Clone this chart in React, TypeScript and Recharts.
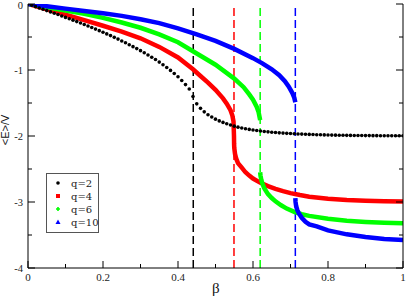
import { ComposedChart, Line, XAxis, YAxis, ReferenceLine } from 'recharts'

// axis ticks
const xTicks = [0, 0.1, 0.2, 0.3, 0.4, 0.5, 0.6, 0.7, 0.8, 0.9, 1]
const xTickLabels = ['0', '', '0.2', '', '0.4', '', '0.6', '', '0.8', '', '1']
const yTicks = [-4, -3.5, -3, -2.5, -2, -1.5, -1, -0.5, 0]
const yTickLabels = ['-4', '', '-3', '', '-2', '', '-1', '', '0']

// critical couplings (dashed lines)
const criticalBeta = [0.4407, 0.5493, 0.6191, 0.7129]
const criticalColors = ['#000000', '#ff0000', '#00ff00', '#0000ff']

// q=2
const q2Beta = [
  0, 0.01, 0.02, 0.03, 0.04, 0.05, 0.06, 0.07, 0.08, 0.09,
  0.1, 0.11, 0.12, 0.13, 0.14, 0.15, 0.16, 0.17, 0.18, 0.19,
  0.2, 0.21, 0.22, 0.23, 0.24, 0.25, 0.26, 0.27, 0.28, 0.29,
  0.3, 0.31, 0.32, 0.33, 0.34, 0.35, 0.36, 0.37, 0.38, 0.39,
  0.4, 0.41, 0.42, 0.43, 0.44, 0.45, 0.46, 0.47, 0.48, 0.49,
  0.5, 0.51, 0.52, 0.53, 0.54, 0.55, 0.56, 0.57, 0.58, 0.59,
  0.6, 0.61, 0.62, 0.63, 0.64, 0.65, 0.66, 0.67, 0.68, 0.69,
  0.7, 0.71, 0.72, 0.73, 0.74, 0.75, 0.76, 0.77, 0.78, 0.79,
  0.8, 0.81, 0.82, 0.83, 0.84, 0.85, 0.86, 0.87, 0.88, 0.89,
  0.9, 0.91, 0.92, 0.93, 0.94, 0.95, 0.96, 0.97, 0.98, 0.99, 1,
]
const q2Energy = [
  0, -0.02, -0.04, -0.06, -0.08, -0.1, -0.12, -0.14, -0.16, -0.181,
  -0.203, -0.224, -0.245, -0.267, -0.289, -0.311, -0.333, -0.356, -0.38, -0.404,
  -0.428, -0.453, -0.479, -0.505, -0.532, -0.56, -0.588, -0.617, -0.646, -0.676,
  -0.707, -0.739, -0.772, -0.806, -0.842, -0.88, -0.92, -0.962, -1.006, -1.053,
  -1.102, -1.158, -1.221, -1.288, -1.402, -1.513, -1.581, -1.634, -1.678, -1.713,
  -1.745, -1.771, -1.794, -1.815, -1.834, -1.851, -1.866, -1.879, -1.89, -1.9,
  -1.909, -1.917, -1.924, -1.931, -1.937, -1.943, -1.948, -1.952, -1.956, -1.96,
  -1.963, -1.966, -1.969, -1.971, -1.974, -1.976, -1.978, -1.98, -1.982, -1.983,
  -1.985, -1.986, -1.987, -1.988, -1.989, -1.99, -1.991, -1.992, -1.992, -1.993,
  -1.994, -1.994, -1.995, -1.995, -1.996, -1.996, -1.996, -1.997, -1.997, -1.997, -1.997,
]

// q=4
const q4HighBeta = [0, 0.05, 0.1, 0.15, 0.2, 0.25, 0.3, 0.35, 0.4, 0.44, 0.46, 0.48, 0.5, 0.52, 0.53, 0.54, 0.545, 0.548, 0.5493]
const q4HighEnergy = [0, -0.08, -0.16, -0.245, -0.33, -0.42, -0.52, -0.65, -0.81, -0.99, -1.09, -1.19, -1.3, -1.43, -1.51, -1.61, -1.69, -1.78, -2.0]
const q4LowBeta = [0.5493, 0.5496, 0.55, 0.552, 0.555, 0.56, 0.57, 0.58, 0.59, 0.6, 0.62, 0.64, 0.66, 0.68, 0.7, 0.725, 0.75, 0.8, 0.85, 0.9, 0.95, 1]
const q4LowEnergy = [-2.0, -2.12, -2.18, -2.27, -2.34, -2.41, -2.48, -2.55, -2.6, -2.645, -2.71, -2.76, -2.8, -2.835, -2.865, -2.895, -2.92, -2.95, -2.97, -2.982, -2.99, -2.994]

// q=6
const q6HighBeta = [0, 0.05, 0.1, 0.15, 0.2, 0.25, 0.3, 0.35, 0.4, 0.45, 0.5, 0.55, 0.575, 0.59, 0.6, 0.61, 0.615, 0.6191]
const q6HighEnergy = [0, -0.05, -0.1, -0.15, -0.21, -0.28, -0.36, -0.46, -0.58, -0.75, -0.92, -1.13, -1.26, -1.37, -1.45, -1.56, -1.64, -1.76]
const q6LowBeta = [0.6191, 0.62, 0.622, 0.625, 0.63, 0.64, 0.65, 0.66, 0.675, 0.69, 0.71, 0.73, 0.75, 0.8, 0.85, 0.9, 0.95, 1]
const q6LowEnergy = [-2.55, -2.6, -2.66, -2.72, -2.79, -2.88, -2.94, -2.99, -3.05, -3.1, -3.15, -3.185, -3.21, -3.255, -3.285, -3.302, -3.315, -3.322]

// q=10
const q10HighBeta = [0, 0.05, 0.1, 0.15, 0.2, 0.25, 0.3, 0.35, 0.4, 0.45, 0.5, 0.55, 0.6, 0.625, 0.65, 0.67, 0.685, 0.695, 0.705, 0.71, 0.7129]
const q10HighEnergy = [0, -0.035, -0.07, -0.105, -0.14, -0.18, -0.23, -0.29, -0.37, -0.46, -0.56, -0.68, -0.82, -0.9, -0.99, -1.08, -1.17, -1.25, -1.35, -1.42, -1.49]
const q10LowBeta = [0.7129, 0.7135, 0.715, 0.718, 0.722, 0.73, 0.74, 0.75, 0.77, 0.8, 0.85, 0.9, 0.95, 1]
const q10LowEnergy = [-2.94, -3.0, -3.06, -3.12, -3.17, -3.24, -3.3, -3.34, -3.37, -3.43, -3.49, -3.53, -3.56, -3.575]

const legendItems = ['q=2', 'q=4', 'q=6', 'q=10']

const toPoints = (betas: number[], energies: number[]) => betas.map((b, i) => ({ b, e: energies[i] }))

const q2 = toPoints(q2Beta, q2Energy)
const curves = [
  { key: 'q4h', data: toPoints(q4HighBeta, q4HighEnergy), color: '#ff0000' },
  { key: 'q4l', data: toPoints(q4LowBeta, q4LowEnergy), color: '#ff0000' },
  { key: 'q6h', data: toPoints(q6HighBeta, q6HighEnergy), color: '#00ff00' },
  { key: 'q6l', data: toPoints(q6LowBeta, q6LowEnergy), color: '#00ff00' },
  { key: 'q10h', data: toPoints(q10HighBeta, q10HighEnergy), color: '#0000ff' },
  { key: 'q10l', data: toPoints(q10LowBeta, q10LowEnergy), color: '#0000ff' },
]

const serif = "'Liberation Serif', 'Times New Roman', Times, serif"
const legendFont = "'DejaVu Serif', serif"
const sans = "'Liberation Sans', Arial, sans-serif"

function BottomTick({ x, y, payload }: any) {
  const label = xTickLabels[xTicks.indexOf(payload.value)]
  const len = label ? 7 : 4
  return (
    <g>
      <line x1={x} y1={y} x2={x} y2={y - len} stroke="#000" />
      {label ? (
        <text x={x} y={y + 13} textAnchor="middle" fontFamily={serif} fontSize={11} fill="#222">
          {label}
        </text>
      ) : null}
    </g>
  )
}

function TopTick({ x, y, payload }: any) {
  const len = xTickLabels[xTicks.indexOf(payload.value)] ? 7 : 4
  return <line x1={x} y1={y} x2={x} y2={y + len} stroke="#000" />
}

function LeftTick({ x, y, payload }: any) {
  const label = yTickLabels[yTicks.indexOf(payload.value)]
  const len = label ? 7 : 4
  return (
    <g>
      <line x1={x} y1={y} x2={x + len} y2={y} stroke="#000" />
      {label ? (
        <text x={x - 5} y={Math.max(y + 4, 9)} textAnchor="end" fontFamily={serif} fontSize={10.5} fill="#222">
          {label}
        </text>
      ) : null}
    </g>
  )
}

function RightTick({ x, y, payload }: any) {
  const len = yTickLabels[yTicks.indexOf(payload.value)] ? 7 : 4
  return <line x1={x} y1={y} x2={x - len} y2={y} stroke="#000" />
}

function Legend() {
  const rowY = [183, 196, 209, 222]
  return (
    <svg width={407} height={298} style={{ position: 'absolute', left: 0, top: 0, pointerEvents: 'none' }}>
      <rect x={46.5} y={173.5} width={52} height={59} fill="#fff" stroke="#555" />
      <circle cx={58} cy={rowY[0]} r={1.8} fill="#000" />
      <rect x={56} y={rowY[1] - 2} width={4} height={4} fill="#ff0000" />
      <path d={`M56 ${rowY[2]}h4M58 ${rowY[2] - 2}v4`} stroke="#00ff00" strokeWidth={1.6} />
      <path d={`M58 ${rowY[3] - 2.5}L60.5 ${rowY[3] + 2}L55.5 ${rowY[3] + 2}Z`} fill="#0000ff" />
      {legendItems.map((t, i) => (
        <text key={t} x={71} y={rowY[i] + 4} fontFamily={legendFont} fontSize={10} fill="#222">
          {t}
        </text>
      ))}
    </svg>
  )
}

export default function App() {
  return (
    <div style={{ position: 'absolute', left: 0, top: 0, width: 407, height: 298, background: '#fff' }}>
      <ComposedChart width={407} height={298} margin={{ top: 4, right: 0, bottom: 0, left: 0 }}>
        <XAxis
          type="number"
          dataKey="b"
          domain={[0, 1]}
          ticks={xTicks}
          interval={0}
          height={30}
          tickSize={0}
          tickMargin={0}
          tickLine={false}
          tick={<BottomTick />}
          axisLine={{ stroke: '#000' }}
          allowDataOverflow
        />
        <XAxis
          xAxisId="top"
          orientation="top"
          type="number"
          dataKey="b"
          domain={[0, 1]}
          ticks={xTicks}
          interval={0}
          height={0}
          tickSize={0}
          tickMargin={0}
          tickLine={false}
          tick={<TopTick />}
          axisLine={{ stroke: '#000' }}
          allowDataOverflow
        />
        <YAxis
          type="number"
          domain={[-4, 0]}
          ticks={yTicks}
          interval={0}
          width={28}
          tickSize={0}
          tickMargin={0}
          tickLine={false}
          tick={<LeftTick />}
          axisLine={{ stroke: '#000' }}
          allowDataOverflow
          label={() => (
            <text
              x={9}
              y={130}
              transform="rotate(-90 9 130)"
              textAnchor="middle"
              fontFamily={sans}
              fontSize={11}
              fill="#111"
            >
              {'<E>/V'}
            </text>
          )}
        />
        <YAxis
          yAxisId="right"
          orientation="right"
          type="number"
          domain={[-4, 0]}
          ticks={yTicks}
          interval={0}
          width={4}
          tickSize={0}
          tickMargin={0}
          tickLine={false}
          tick={<RightTick />}
          axisLine={{ stroke: '#000' }}
          allowDataOverflow
        />
        {criticalBeta.map((b, i) => (
          <ReferenceLine key={b} x={b} stroke={criticalColors[i]} strokeWidth={1.5} strokeDasharray="8 4" />
        ))}
        {curves.map((c) => (
          <Line
            key={c.key}
            data={c.data}
            dataKey="e"
            type="linear"
            stroke={c.color}
            strokeWidth={4.5}
            dot={false}
            isAnimationActive={false}
          />
        ))}
        <Line
          data={q2}
          dataKey="e"
          stroke="none"
          dot={{ r: 1.8, fill: '#000', stroke: 'none' }}
          isAnimationActive={false}
        />
      </ComposedChart>
      <Legend />
      <div
        style={{
          position: 'absolute',
          left: 212,
          top: 280,
          fontFamily: serif,
          fontSize: 15,
          color: '#111',
          lineHeight: '16px',
        }}
      >
        β
      </div>
    </div>
  )
}
